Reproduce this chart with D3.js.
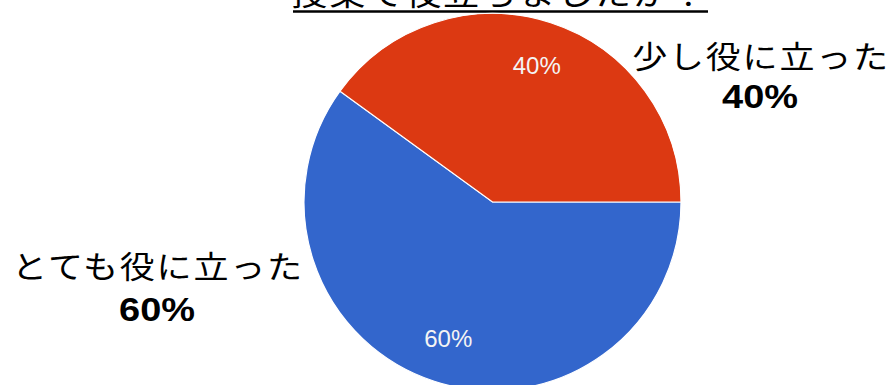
<!DOCTYPE html>
<html>
<head>
<meta charset="utf-8">
<script src="https://cdn.jsdelivr.net/npm/d3@7"></script>
<style>
  html, body { margin: 0; padding: 0; background: #ffffff; }
  svg { display: block; }
</style>
</head>
<body>
<svg id="chart" width="895" height="385"></svg>
<script>
// Survey result: did the class help?
const title = "授業で役立ちましたか？";
const categories = ["とても役に立った", "少し役に立った"];
const values = [60, 40];
const colors = ["#3366CC", "#DC3912"];

const W = 895, H = 385;
const cx = 492.5, cy = 202, R = 188.5;
const jpFont = "'Noto Sans CJK JP', 'Noto Sans', sans-serif";
const numFont = "'Liberation Sans', Arial, sans-serif";
const stretch = 1.13; // wide lettering for the callouts and title

const svg = d3.select("#chart");

// Title (underlined, partly above the top edge)
const titleG = svg.append("g");
titleG.append("text")
  .attr("transform", `translate(500,5) scale(${stretch},1)`)
  .attr("text-anchor", "middle")
  .attr("font-family", jpFont)
  .attr("font-size", 32)
  .attr("letter-spacing", 1.6)
  .attr("fill", "#000")
  .text(title);
titleG.append("line")
  .attr("x1", 293).attr("x2", 708)
  .attr("y1", 11.5).attr("y2", 11.5)
  .attr("stroke", "#000")
  .attr("stroke-width", 2.5);

// Pie: first slice starts at 3 o'clock and runs clockwise
const pie = d3.pie().sort(null)
  .startAngle(Math.PI / 2)
  .endAngle(Math.PI / 2 + 2 * Math.PI);
const arcs = pie(values);
const arc = d3.arc().innerRadius(0).outerRadius(R);
const labelArc = d3.arc().innerRadius(R * 0.76).outerRadius(R * 0.76);

const g = svg.append("g").attr("transform", `translate(${cx},${cy})`);
g.selectAll("path.slice")
  .data(arcs)
  .join("path")
  .attr("class", "slice")
  .attr("d", arc)
  .attr("fill", (d, i) => colors[i])
  .attr("stroke", "#ffffff")
  .attr("stroke-width", 1.2);

g.selectAll("text.pct")
  .data(arcs)
  .join("text")
  .attr("class", "pct")
  .attr("transform", d => `translate(${labelArc.centroid(d)})`)
  .attr("text-anchor", "middle")
  .attr("dominant-baseline", "central")
  .attr("font-family", numFont)
  .attr("font-size", 24)
  .attr("fill", "#f4f4f4")
  .text(d => d.data + "%");

// Outside callout labels
const callouts = [
  { x: 157, y1: 265, y2: 310 },
  { x: 760, y1: 55, y2: 96.5 }
];
callouts.forEach((c, i) => {
  svg.append("text")
    .attr("transform", `translate(${c.x + 1},${c.y1}) scale(${stretch},1)`)
    .attr("text-anchor", "middle")
    .attr("dominant-baseline", "central")
    .attr("font-family", jpFont)
    .attr("font-size", 31)
    .attr("letter-spacing", 1.6)
    .attr("fill", "#000")
    .text(categories[i]);
  svg.append("text")
    .attr("transform", `translate(${c.x},${c.y2}) scale(1.15,1)`)
    .attr("text-anchor", "middle")
    .attr("dominant-baseline", "central")
    .attr("font-family", numFont)
    .attr("font-weight", "bold")
    .attr("font-size", 33)
    .attr("fill", "#000")
    .text(values[i] + "%");
});
</script>
</body>
</html>
